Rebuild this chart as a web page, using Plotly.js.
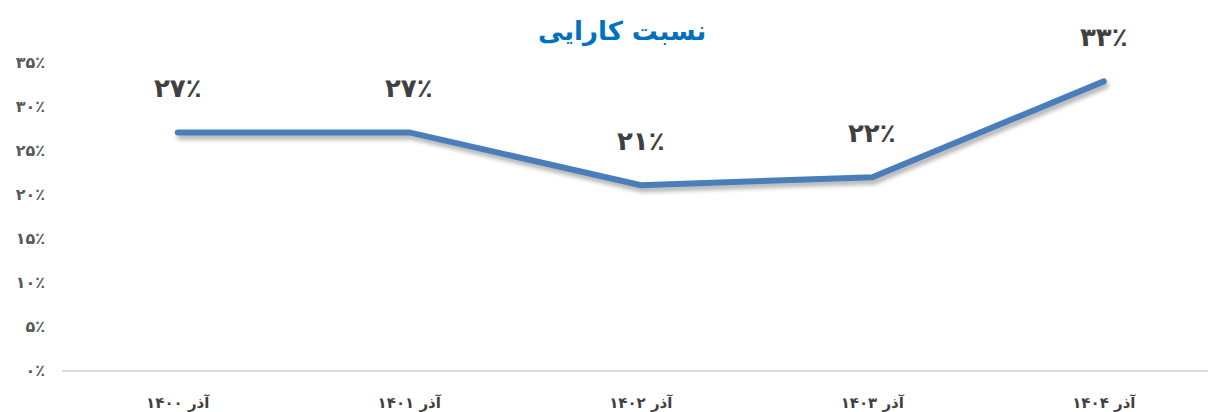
<!DOCTYPE html>
<html>
<head>
<meta charset="utf-8">
<script src="https://cdn.plot.ly/plotly-3.0.1.min.js"></script>
<style>
html,body{margin:0;padding:0;background:#fff;}
#chart{width:1208px;height:412px;}
#chart .scatterlayer .js-line{stroke-linecap:round;stroke-linejoin:miter;filter:drop-shadow(2px 4px 2px rgba(0,0,0,0.3));}
</style>
</head>
<body>
<div id="chart"></div>
<script>
const categories = ["آذر ۱۴۰۰", "آذر ۱۴۰۱", "آذر ۱۴۰۲", "آذر ۱۴۰۳", "آذر ۱۴۰۴"];
const values = [27.0, 27.0, 21.0, 21.9, 32.8];
const valueLabels = ["۲۷٪", "۲۷٪", "۲۱٪", "۲۲٪", "۳۳٪"];
const tickValues = [0, 5, 10, 15, 20, 25, 30, 35];
const tickLabels = ["۰٪", "۵٪", "۱۰٪", "۱۵٪", "۲۰٪", "۲۵٪", "۳۰٪", "۳۵٪"];
const titleText = "نسبت کارایی";

const xIdx = categories.map((c, i) => i);

const trace = {
  x: xIdx,
  y: values,
  type: "scatter",
  mode: "lines",
  line: {color: "#4A7EBB", width: 6},
  hoverinfo: "skip"
};

const annotations = values.map((v, i) => ({
  x: i, y: v, xref: "x", yref: "y",
  text: "<b>" + valueLabels[i] + "</b>",
  showarrow: false,
  yshift: 44,
  font: {family: "DejaVu Sans", size: 26, color: "#404040"}
}));

const layout = {
  width: 1208, height: 412,
  margin: {l: 62, r: 0, t: 62, b: 42},
  paper_bgcolor: "#fff", plot_bgcolor: "#fff",
  showlegend: false,
  title: {
    text: "<b>" + titleText + "</b>",
    x: 0.515, xanchor: "center", y: 0.925, yanchor: "middle",
    font: {family: "DejaVu Sans", size: 26, color: "#0070C0"}
  },
  xaxis: {
    range: [-0.5, 4.45],
    tickvals: xIdx, ticktext: categories.map(c => "<b>" + c + "</b>"),
    showgrid: false, zeroline: false,
    showline: true, linecolor: "#D9D9D9", linewidth: 2,
    ticks: "", ticklabelstandoff: 18,
    tickfont: {family: "DejaVu Sans", size: 15, color: "#404040"},
    fixedrange: true
  },
  yaxis: {
    range: [0, 35],
    tickvals: tickValues, ticktext: tickLabels.map(t => "<b>" + t + "</b>"),
    showgrid: false, zeroline: false, showline: false,
    ticks: "", ticklabelstandoff: 16,
    tickfont: {family: "DejaVu Sans", size: 16, color: "#595959"},
    fixedrange: true
  },
  annotations: annotations
};

Plotly.newPlot("chart", [trace], layout, {displayModeBar: false, staticPlot: true});
</script>
</body>
</html>
